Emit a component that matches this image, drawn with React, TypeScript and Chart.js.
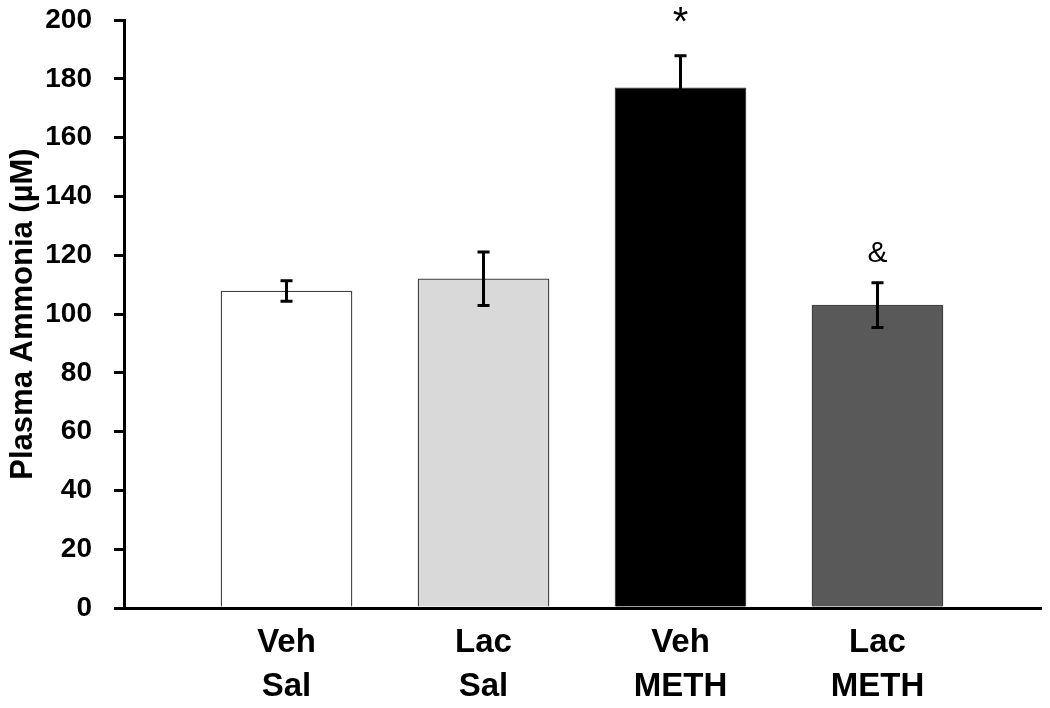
import React, { useEffect, useRef } from "react";
import { Chart, registerables } from "chart.js";

Chart.register(...registerables);

const CATEGORY_LINES: string[][] = [
  ["Veh", "Sal"],
  ["Lac", "Sal"],
  ["Veh", "METH"],
  ["Lac", "METH"],
];
const POSITIONS: number[] = [1, 2, 3, 4];
const MEANS: number[] = [107.8, 112.0, 176.9, 103.0];
const SEMS: number[] = [3.5, 9.1, 10.9, 7.6];
const MARKS: string[] = ["", "", "*", "&"];
const FILLS: string[] = ["#ffffff", "#d9d9d9", "#000000", "#595959"];
const Y_MIN = 0;
const Y_MAX = 200;
const Y_STEP = 20;
const X_MIN = 0.175;
const X_MAX = 4.83;

const FONT = "'Liberation Sans', Arial, Helvetica, sans-serif";

const errorBarPlugin = {
  id: "errorBars",
  afterDatasetsDraw(chart: any) {
    const ctx = chart.ctx;
    const xs = chart.scales.x;
    const ys = chart.scales.y;
    ctx.save();
    MEANS.forEach((m, i) => {
      const px = xs.getPixelForValue(POSITIONS[i]);
      const top = ys.getPixelForValue(m + SEMS[i]);
      const bot = ys.getPixelForValue(m - SEMS[i]);
      ctx.strokeStyle = "#000";
      ctx.lineWidth = 3;
      ctx.beginPath();
      ctx.moveTo(px, top);
      ctx.lineTo(px, bot);
      ctx.moveTo(px - 6, top);
      ctx.lineTo(px + 6, top);
      ctx.moveTo(px - 6, bot);
      ctx.lineTo(px + 6, bot);
      ctx.stroke();
      if (MARKS[i]) {
        const size = MARKS[i] === "*" ? 40 : 30;
        ctx.fillStyle = "#000";
        ctx.font = `${size}px ${FONT}`;
        ctx.textAlign = "center";
        ctx.textBaseline = "alphabetic";
        ctx.fillText(MARKS[i], px, top - 21);
      }
    });
    ctx.restore();
  },
};

export default function App() {
  const canvasRef = useRef<HTMLCanvasElement | null>(null);

  useEffect(() => {
    if (!canvasRef.current) return;
    const chart = new Chart(canvasRef.current, {
      type: "bar",
      data: {
        datasets: [
          {
            data: MEANS.map((m, i) => ({ x: POSITIONS[i], y: m })),
            backgroundColor: FILLS,
            borderColor: "#404040",
            borderWidth: 1.3,
            barThickness: 131,
          },
        ],
      },
      options: {
        responsive: false,
        animation: false,
        layout: { padding: { top: 20, right: 9, bottom: 0, left: 0 } },
        plugins: {
          legend: { display: false },
          tooltip: { enabled: false },
        },
        scales: {
          x: {
            type: "linear",
            min: X_MIN,
            max: X_MAX,
            offset: false,
            afterBuildTicks: (scale: any) => {
              scale.ticks = POSITIONS.map((v) => ({ value: v }));
            },
            afterFit: (scale: any) => {
              scale.height = 100;
              scale.paddingLeft = 0;
              scale.paddingRight = 0;
            },
            grid: { display: false, drawTicks: false, offset: false },
            border: { display: true, color: "#000", width: 3 },
            ticks: {
              autoSkip: false,
              maxRotation: 0,
              minRotation: 0,
              padding: 12,
              color: "#000",
              font: { family: FONT, size: 33, weight: "bold", lineHeight: 1.36 },
              callback: (v: any) => {
                const idx = POSITIONS.indexOf(Number(v));
                return idx >= 0 ? CATEGORY_LINES[idx] : "";
              },
            },
          },
          y: {
            min: Y_MIN,
            max: Y_MAX,
            afterFit: (scale: any) => {
              scale.width = 124;
              scale.paddingTop = 0;
              scale.paddingBottom = 0;
            },
            grid: {
              display: true,
              drawOnChartArea: false,
              drawTicks: true,
              tickLength: 10,
              color: "#000",
              lineWidth: 3,
            },
            border: { display: true, color: "#000", width: 3 },
            ticks: {
              stepSize: Y_STEP,
              padding: 22,
              color: "#000",
              font: { family: FONT, size: 28, weight: "bold" },
            },
            title: {
              display: true,
              text: "Plasma Ammonia (µM)",
              color: "#000",
              padding: { top: 5, bottom: 0 },
              font: { family: FONT, size: 31, weight: "bold", lineHeight: 1.2 },
            },
          },
        },
      },
      plugins: [errorBarPlugin],
    } as any);
    return () => chart.destroy();
  }, []);

  return (
    <div style={{ position: "absolute", left: 0, top: 0, width: 1050, height: 708, background: "#fff" }}>
      <canvas ref={canvasRef} width={1050} height={708} />
    </div>
  );
}
